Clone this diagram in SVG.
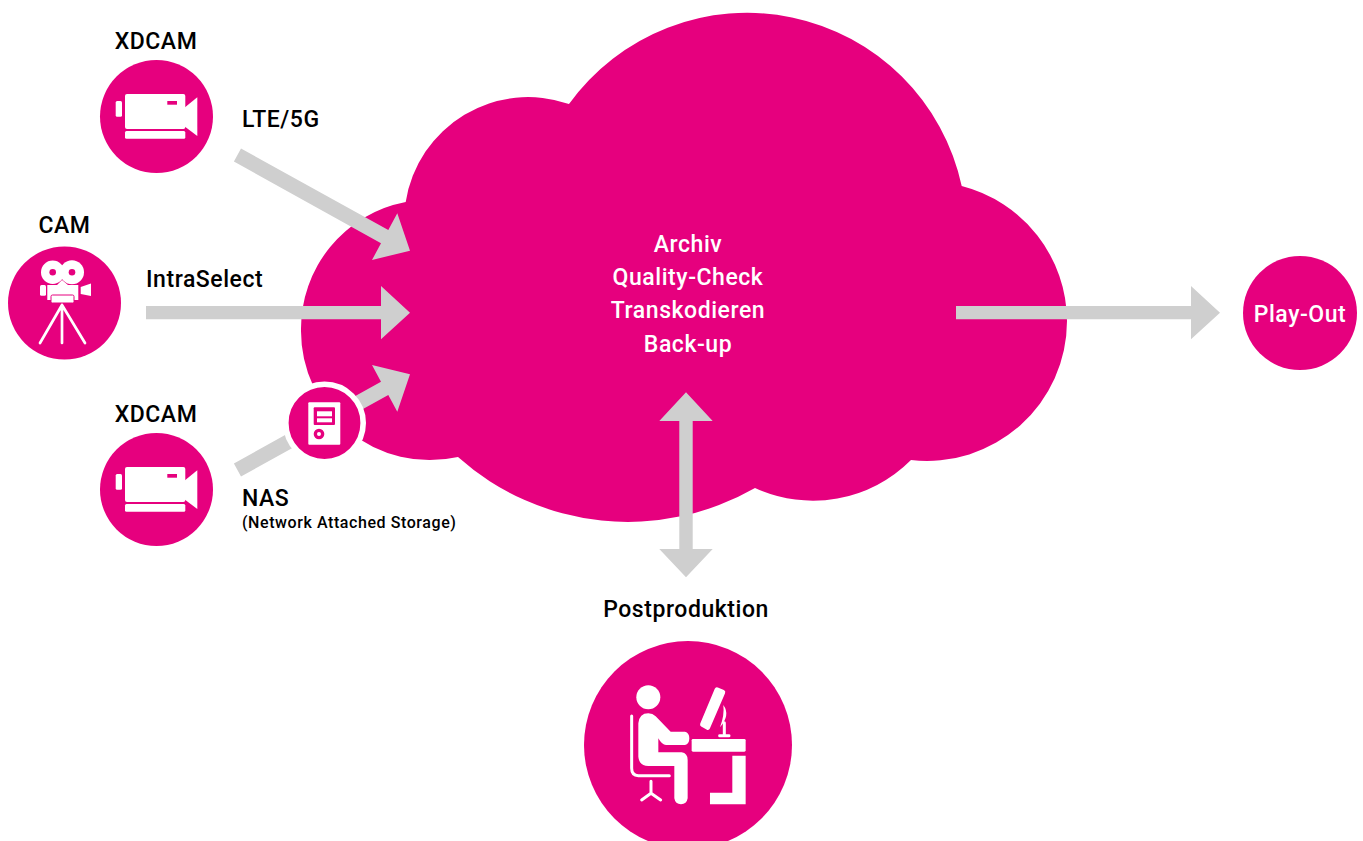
<svg xmlns="http://www.w3.org/2000/svg" width="1363" height="841" viewBox="0 0 1363 841">
<style>
.m{fill:#e6007e}.w{fill:#fff}.g{fill:#cfcfcf}
text{font-family:Roboto,"Liberation Sans",sans-serif;font-weight:500;font-size:23px;letter-spacing:.55px;fill:#000}
.c{text-anchor:middle}.t{fill:#fff}
.ws{fill:none;stroke:#fff;stroke-linecap:round;stroke-linejoin:round}
</style>
<defs>
<g id="xd">
<rect x="125" y="94" width="60.3" height="35" rx="2" class="w"/>
<rect x="125" y="131" width="60.3" height="7.7" rx="1.5" class="w"/>
<rect x="167.3" y="101" width="9.7" height="3.7" class="m"/>
<rect x="115.7" y="101" width="6.3" height="15.7" rx="1.5" class="w"/>
<path d="M185 107.3 197.3 97.3V136L185 126.7Z" class="w"/>
</g>
</defs>
<g id="cloud"><path class="m" d="M405.7 202A124 124 0 0 1 569 104A219.5 219.5 0 0 1 961.7 186A140 140 0 0 1 1067 321A140 140 0 0 1 911 460A138.3 138.3 0 0 1 755 488A255 255 0 0 1 458 457A129 129 0 0 1 301 330A129 129 0 0 1 405.7 202Z"/>
<text class="c t" x="688" y="252">Archiv</text>
<text class="c t" x="688" y="285">Quality-Check</text>
<text class="c t" x="688" y="318">Transkodieren</text>
<text class="c t" x="688" y="352">Back-up</text></g>
<g id="connectors">
<path class="g" d="M241 148.5 388.3 230.1 397.3 213.3 410 250.7 372 260 381 243.2 233.9 161.6Z"/>
<path class="g" d="M146 306H381V286L410 312.7 381 339.3V319.3H146Z"/>
<path class="g" d="M241 476.5 388.3 394.9 397.3 411.7 410 374.3 372 365 381 381.8 233.9 463.4Z"/>
<path class="g" d="M956 306H1191V286L1220 312.7 1191 339.3V319.3H956Z"/>
<path class="g" d="M686 392.3 712.7 421H692.7V549H712.7L686 577.3 659.3 549H679.3V421H659.3Z"/>
</g>
<g id="xdcam-top">
<circle class="m" cx="156.5" cy="116.5" r="56.5"/><use href="#xd"/>
<text class="c" x="156" y="49">XDCAM</text>
</g>
<text x="242" y="127">LTE/5G</text>
<g id="cam">
<circle class="m" cx="64.5" cy="303" r="56.5"/>
<circle class="w" cx="52.7" cy="272.3" r="11.7"/><circle class="w" cx="72" cy="272.3" r="12"/>
<circle class="m" cx="52.7" cy="272.3" r="3.3"/><circle class="m" cx="72" cy="272.3" r="3.3"/>
<path class="w" d="M47.3 285H57L62 280 68 285H78.3V300H47.3Z"/>
<rect class="w" x="40" y="285" width="6" height="10.7" rx="1.5"/>
<path class="w" d="M80.7 287 91 283.5V296L80.7 294Z"/>
<rect class="w" x="51" y="295" width="23" height="8" rx="1.5" stroke="#e6007e" stroke-width="1"/>
<path class="ws" stroke-width="2.7" d="M62 305 40 343M62 305V343M62 305 85 343"/>
<text class="c" x="64.5" y="233">CAM</text>
</g>
<text x="146" y="287">IntraSelect</text>
<g id="xdcam-bottom">
<circle class="m" cx="156.5" cy="489.5" r="56.5"/><use href="#xd" y="373"/>
<text class="c" x="156" y="422">XDCAM</text>
</g>
<g id="nas">
<circle class="m" cx="324.5" cy="423" r="38.7" stroke="#fff" stroke-width="5.6"/>
<rect class="w" x="308.3" y="402.3" width="32" height="42.4" rx="1"/>
<rect class="m" x="313.7" y="407.3" width="21.3" height="17.7" rx="1"/>
<rect class="w" x="317" y="411.3" width="15" height="5"/><rect class="w" x="317" y="418.3" width="15" height="4"/>
<circle class="m" cx="319" cy="434" r="5.3"/><circle class="w" cx="319" cy="434" r="2"/>
<text x="242" y="506">NAS</text>
<text x="242" y="528" style="font-size:16px;letter-spacing:.58px">(Network Attached Storage)</text>
</g>
<g id="playout">
<circle class="m" cx="1300" cy="313" r="57"/>
<text class="c t" x="1300" y="322">Play-Out</text>
</g>
<g id="postproduktion">
<circle class="m" cx="688" cy="745" r="104"/>
<text class="c" x="686" y="617">Postproduktion</text>
<g transform="translate(570 630) scale(.3333)">
<circle class="w" cx="235" cy="202" r="36"/>
<path class="w" d="M205 280Q208 250 235 250Q248 250 257 259L302 305H345Q358 308 358 325Q358 342 345 345H288Q276 345 265 325V367H335Q353 370 353 390V505Q350 523 333 523Q316 523 313 505V408H235Q208 408 205 380Z"/>
<path class="ws" stroke-width="9" d="M185 258V415Q185 437 205 437H298"/>
<path class="ws" stroke-width="9" d="M243 454V490L215 510M243 490 272 510"/>
<rect class="w" x="365" y="327" width="162" height="38" rx="4"/>
<path class="w" d="M487 377H527V523H420V488H487Z"/>
<path class="w" d="M440.8 179.2 458.8 186.8 413.2 292.8 397.2 283.2Z" stroke="#fff" stroke-width="14" stroke-linejoin="round"/>
<path class="ws" stroke-width="9" d="M463 278V315M449 317H477"/>
<path class="w" d="M460 225Q482 255 450 292Q464 255 460 225Z"/>
</g>
</g>
</svg>
